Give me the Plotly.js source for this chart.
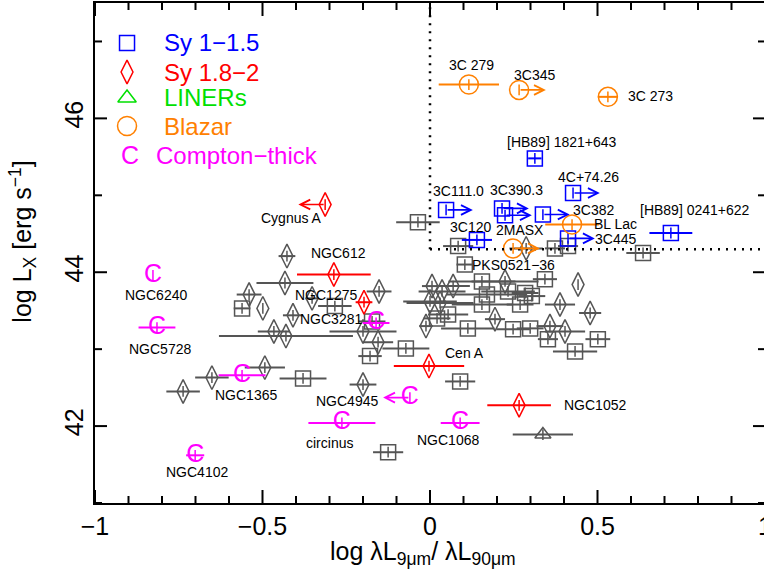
<!DOCTYPE html>
<html><head><meta charset="utf-8">
<script src="https://cdn.plot.ly/plotly-3.0.1.min.js"></script>
<style>html,body{margin:0;padding:0;overflow:hidden;background:#fff}#plot{width:770px;height:575px}</style>
</head><body><div id="plot"></div>
<script>
// ---------- data (log λL9/λL90, log Lx, x error, limit flag: 1 = lower limit →, -1 = upper limit ←) ----------
const grayS1x = [-0.036, 0.084, 0.373, 0.412, 0.636, 0.104, 0.343, 0.155, 0.170, 0.155, 0.233, 0.284, 0.304, 0.269, 0.248, 0.299, 0.352, 0.501, 0.433, 0.113, 0.054, 0.021, -0.072, -0.179, 0.090, -0.125, -0.379, -0.561, -0.284, -0.173];
const grayS1y = [44.65, 44.34, 44.31, 44.34, 44.25, 44.10, 43.91, 43.88, 43.71, 43.58, 43.75, 43.73, 43.69, 43.58, 43.26, 43.27, 43.13, 43.13, 42.97, 43.27, 43.45, 43.40, 43.01, 42.91, 42.58, 41.66, 42.62, 43.53, 43.56, 43.36];
const grayS1e = [0.065, 0.045, 0.03, 0.03, 0.05, 0.025, 0.036, 0.10, 0.12, 0.09, 0.08, 0.04, 0.04, 0.04, 0.05, 0.04, 0.03, 0.037, 0.066, 0.08, 0.06, 0.04, 0.07, 0.035, 0.045, 0.045, 0.07, 0.025, 0.05, 0.04];

const grayS2x = [-0.427, -0.433, -0.540, -0.499, -0.352, -0.409, -0.466, -0.430, -0.493, -0.651, -0.737, -0.200, -0.152, -0.200, -0.155, 0.006, 0.036, 0.069, 0.000, 0.030, -0.012, 0.224, 0.442, 0.388, 0.478, 0.194, 0.358, 0.403, 0.287];
const grayS2y = [44.21, 43.86, 43.71, 43.53, 43.66, 43.44, 43.23, 43.17, 42.76, 42.63, 42.45, 42.54, 43.75, 43.23, 43.09, 43.82, 43.75, 43.82, 43.62, 43.60, 43.30, 43.88, 43.84, 43.58, 43.47, 43.39, 43.30, 43.23, 44.31];
const grayS2e = [0.025, 0.085, 0.037, 0, 0.02, 0.03, 0.048, 0.2, 0.06, 0.05, 0.05, 0.04, 0.037, 0.1, 0.045, 0.03, 0.07, 0.05, 0.08, 0.1, 0.02, 0.1, 0, 0.045, 0.033, 0.03, 0.04, 0.06, 0.05];

const grayLx = [0.337];
const grayLy = [41.89];
const grayLe = [0.09];

const sy1x = [0.313, 0.427, 0.048, 0.215, 0.224, 0.337, 0.140, 0.412, 0.719];
const sy1y = [45.48, 45.03, 44.81, 44.83, 44.74, 44.75, 44.42, 44.44, 44.51];
const sy1e = [0.02, 0, 0, 0, 0, 0, 0.045, 0, 0.064];
const sy1lim = [0, 1, 1, 1, 1, 1, 0, 1, 0];

const sy2x = [-0.313, -0.287, -0.197, -0.003, 0.266];
const sy2y = [44.88, 43.97, 43.61, 42.78, 42.27];
const sy2e = [0, 0.11, 0.025, 0.105, 0.095];
const sy2lim = [-1, 0, 0, 0, 0];

const blzx = [0.116, 0.266, 0.531, 0.424, 0.248];
const blzy = [46.44, 46.37, 46.28, 44.62, 44.31];
const blze = [0.09, 0, 0.03, 0.08, 0];
const blzlim = [0, 1, 0, 0, 1];

const ctx = [-0.827, -0.815, -0.561, -0.161, -0.060, -0.263, 0.090, -0.701];
const cty = [43.96, 43.28, 42.66, 43.34, 42.37, 42.04, 42.04, 41.62];
const cte = [0, 0.055, 0.07, 0.04, 0, 0.1, 0.058, 0.027];
const ctlim = [0, 0, 0, 0, -1, 0, 0, 0];

const labelText = ['3C 279', '3C345', '3C 273', '[HB89] 1821+643', '4C+74.26', '3C111.0', '3C390.3', '3C382', 'BL Lac', '3C120', '2MASX', '3C445', '[HB89] 0241+622', 'PKS0521\u221236', 'Cygnus A', 'NGC612', 'NGC1275', 'NGC3281', 'NGC6240', 'NGC5728', 'NGC1365', 'NGC4945', 'circinus', 'NGC4102', 'Cen A', 'NGC1052', 'NGC1068'];
const labelX = [0.125, 0.313, 0.657, 0.394, 0.472, 0.084, 0.257, 0.487, 0.555, 0.122, 0.269, 0.555, 0.791, 0.248, -0.412, -0.272, -0.310, -0.296, -0.818, -0.806, -0.549, -0.248, -0.299, -0.696, 0.104, 0.493, 0.054];
const labelY = [46.70, 46.57, 46.29, 45.69, 45.24, 45.05, 45.07, 44.81, 44.63, 44.59, 44.55, 44.43, 44.81, 44.10, 44.70, 44.25, 43.71, 43.39, 43.70, 43.00, 42.41, 42.32, 41.78, 41.40, 42.95, 42.27, 41.82];

const legendNames = ['Sy 1\u22121.5', 'Sy 1.8\u22122', 'LINERs', 'Blazar', 'Compton\u2212thick'];

// axis ticks
const xMajor = [-1, -0.5, 0, 0.5, 1];
const xMinor = [-0.9, -0.8, -0.7, -0.6, -0.4, -0.3, -0.2, -0.1, 0.1, 0.2, 0.3, 0.4, 0.6, 0.7, 0.8, 0.9];
const yMajor = [42, 44, 46];
const yMinor = [41, 43, 45, 47];

const xCut = 0, yCut = 44.3;

// ---------- styles ----------
const GRAY = '#555555', BLUE = '#0000ff', RED = '#ff0000', GREEN = '#00e000', ORANGE = '#ff8000', MAG = '#ff00ff';
const FONT = 'Liberation Sans, Arial, sans-serif';
const ARROW_LEN = 0.08;
const YERR = 0.07;
const XR = [-1, 1], YR = [41, 47.5];
const PLOT_W = 670, PLOT_H = 500;               // plot area in px
const ux = (XR[1] - XR[0]) / PLOT_W, uy = (YR[1] - YR[0]) / PLOT_H;   // axis units per px
const px = f => XR[0] + f * (XR[1] - XR[0]);
const py = f => YR[0] + f * (YR[1] - YR[0]);

function errs(arr, col, th) {
  return {
    error_x: {type: 'data', array: arr, symmetric: true, width: 0, thickness: th, color: col},
    error_y: {type: 'constant', value: YERR, width: 0, thickness: 1.5, color: col}
  };
}
function mk(x, y, e, col, symbol, size, name) {
  return Object.assign({
    type: 'scatter', mode: 'markers', x: x, y: y, name: name, showlegend: false, hoverinfo: 'skip',
    marker: {symbol: symbol, size: size, color: col, line: {color: col, width: 1.5}}
  }, errs(e, col, 2));
}

// tick marks (inside, all four sides) built from the tick arrays
const tkx = [], tky = [];
function xT(v, len) {
  tkx.push(v, v, null, v, v, null);
  tky.push(YR[0], YR[0] + len * uy, null, YR[1], YR[1] - len * uy, null);
}
function yT(v, len) {
  tkx.push(XR[0], XR[0] + len * ux, null, XR[1], XR[1] - len * ux, null);
  tky.push(v, v, null, v, v, null);
}
xMajor.forEach(v => xT(v, 13));
xMinor.forEach(v => xT(v, 7));
yMajor.forEach(v => yT(v, 12));
yMinor.forEach(v => yT(v, 7));

const traces = [
  {type: 'scatter', mode: 'lines', x: tkx, y: tky, connectgaps: false, showlegend: false, hoverinfo: 'skip', cliponaxis: false,
    line: {color: '#000', width: 2}},
  mk(grayS1x, grayS1y, grayS1e, GRAY, 'square-open', 15, 'gray Sy1'),
  mk(grayS2x, grayS2y, grayS2e, GRAY, 'diamond-tall-open', 17, 'gray Sy2'),
  mk(grayLx, grayLy, grayLe, GRAY, 'triangle-up-open', 14, 'gray LINER'),
  mk(sy1x, sy1y, sy1e, BLUE, 'square-open', 15, 'Sy1'),
  mk(sy2x, sy2y, sy2e, RED, 'diamond-tall-open', 17, 'Sy2'),
  mk(blzx, blzy, blze, ORANGE, 'circle-open', 19, 'Blazar'),
  Object.assign({
    type: 'scatter', mode: 'text', x: ctx, y: cty, text: ctx.map(() => 'C'), textposition: 'middle center',
    textfont: {family: FONT, size: 25, color: MAG}, showlegend: false, hoverinfo: 'skip'
  }, errs(cte, MAG, 2))
];

const legSym = ['square-open', 'diamond-tall-open', 'triangle-up-open', 'circle-open'];
const legCol = [BLUE, RED, GREEN, ORANGE];
const legSize = [15, 17, 16, 19];
const legY = [0.92, 0.862, 0.81, 0.754, 0.696];
for (let i = 0; i < 4; i++) {
  traces.push({type: 'scatter', mode: 'markers', x: [px(0.0478)], y: [py(legY[i])], showlegend: false, hoverinfo: 'skip', cliponaxis: false,
    marker: {symbol: legSym[i], size: legSize[i], color: legCol[i], line: {color: legCol[i], width: 1.5}}});
}

const annotations = [];
function addArrows(x, y, lim, col) {
  for (let i = 0; i < x.length; i++) {
    if (!lim[i]) continue;
    annotations.push({x: x[i] + lim[i] * ARROW_LEN, y: y[i], ax: x[i], ay: y[i], xref: 'x', yref: 'y', axref: 'x', ayref: 'y',
      showarrow: true, text: '', arrowhead: 5, arrowsize: 1.2, arrowwidth: 1.6, arrowcolor: col, standoff: 0, startstandoff: 0});
  }
}
addArrows(sy1x, sy1y, sy1lim, BLUE);
addArrows(sy2x, sy2y, sy2lim, RED);
addArrows(blzx, blzy, blzlim, ORANGE);
addArrows(ctx, cty, ctlim, MAG);

for (let i = 0; i < labelText.length; i++) {
  annotations.push({x: labelX[i], y: labelY[i], xref: 'x', yref: 'y', text: labelText[i], showarrow: false,
    xanchor: 'center', yanchor: 'middle', font: {family: FONT, size: 14, color: '#000'}});
}
const legCols = [BLUE, RED, GREEN, ORANGE, MAG];
for (let i = 0; i < 5; i++) {
  annotations.push({x: i === 4 ? 0.088 : 0.1, y: legY[i], xref: 'paper', yref: 'paper', text: legendNames[i], showarrow: false,
    xanchor: 'left', yanchor: 'middle', font: {family: FONT, size: 24, color: legCols[i]}});
}
annotations.push({x: 0.052, y: legY[4], xref: 'paper', yref: 'paper', text: 'C', showarrow: false,
  xanchor: 'center', yanchor: 'middle', font: {family: FONT, size: 25, color: MAG}});

annotations.push({x: 0.489, y: -0.1, xref: 'paper', yref: 'paper', showarrow: false, xanchor: 'center', yanchor: 'middle',
  text: 'log \u03bbL<sub>9\u03bcm</sub>/ \u03bbL<sub>90\u03bcm</sub>', font: {family: FONT, size: 25, color: '#000'}});
annotations.push({x: -0.108, y: 0.522, xref: 'paper', yref: 'paper', showarrow: false, xanchor: 'center', yanchor: 'middle', textangle: -90,
  text: 'log L<sub>X</sub> [erg s<sup>\u22121</sup>]', font: {family: FONT, size: 25, color: '#000'}});

const shapes = [
  {type: 'line', xref: 'x', yref: 'y', x0: xCut, x1: xCut, y0: yCut, y1: YR[1], line: {color: '#000', width: 2.5, dash: '2px,6px'}},
  {type: 'line', xref: 'x', yref: 'y', x0: xCut, x1: XR[1], y0: yCut, y1: yCut, line: {color: '#000', width: 2.5, dash: '2px,6px'}}
];

const axCommon = {
  showline: true, linecolor: '#000', linewidth: 2, mirror: true, showgrid: false, zeroline: false,
  ticks: '', ticklabeloverflow: 'allow',
  tickfont: {family: FONT, size: 25, color: '#000'}
};

const layout = {
  width: 770, height: 575,
  margin: {l: 95, r: 5, t: 3, b: 72},
  paper_bgcolor: '#fff', plot_bgcolor: '#fff',
  showlegend: false,
  xaxis: Object.assign({}, axCommon, {range: XR, tickvals: xMajor}),
  yaxis: Object.assign({}, axCommon, {range: YR, tickvals: yMajor, tickangle: -90}),
  shapes: shapes,
  annotations: annotations
};

Plotly.newPlot('plot', traces, layout, {staticPlot: true});
</script></body></html>
